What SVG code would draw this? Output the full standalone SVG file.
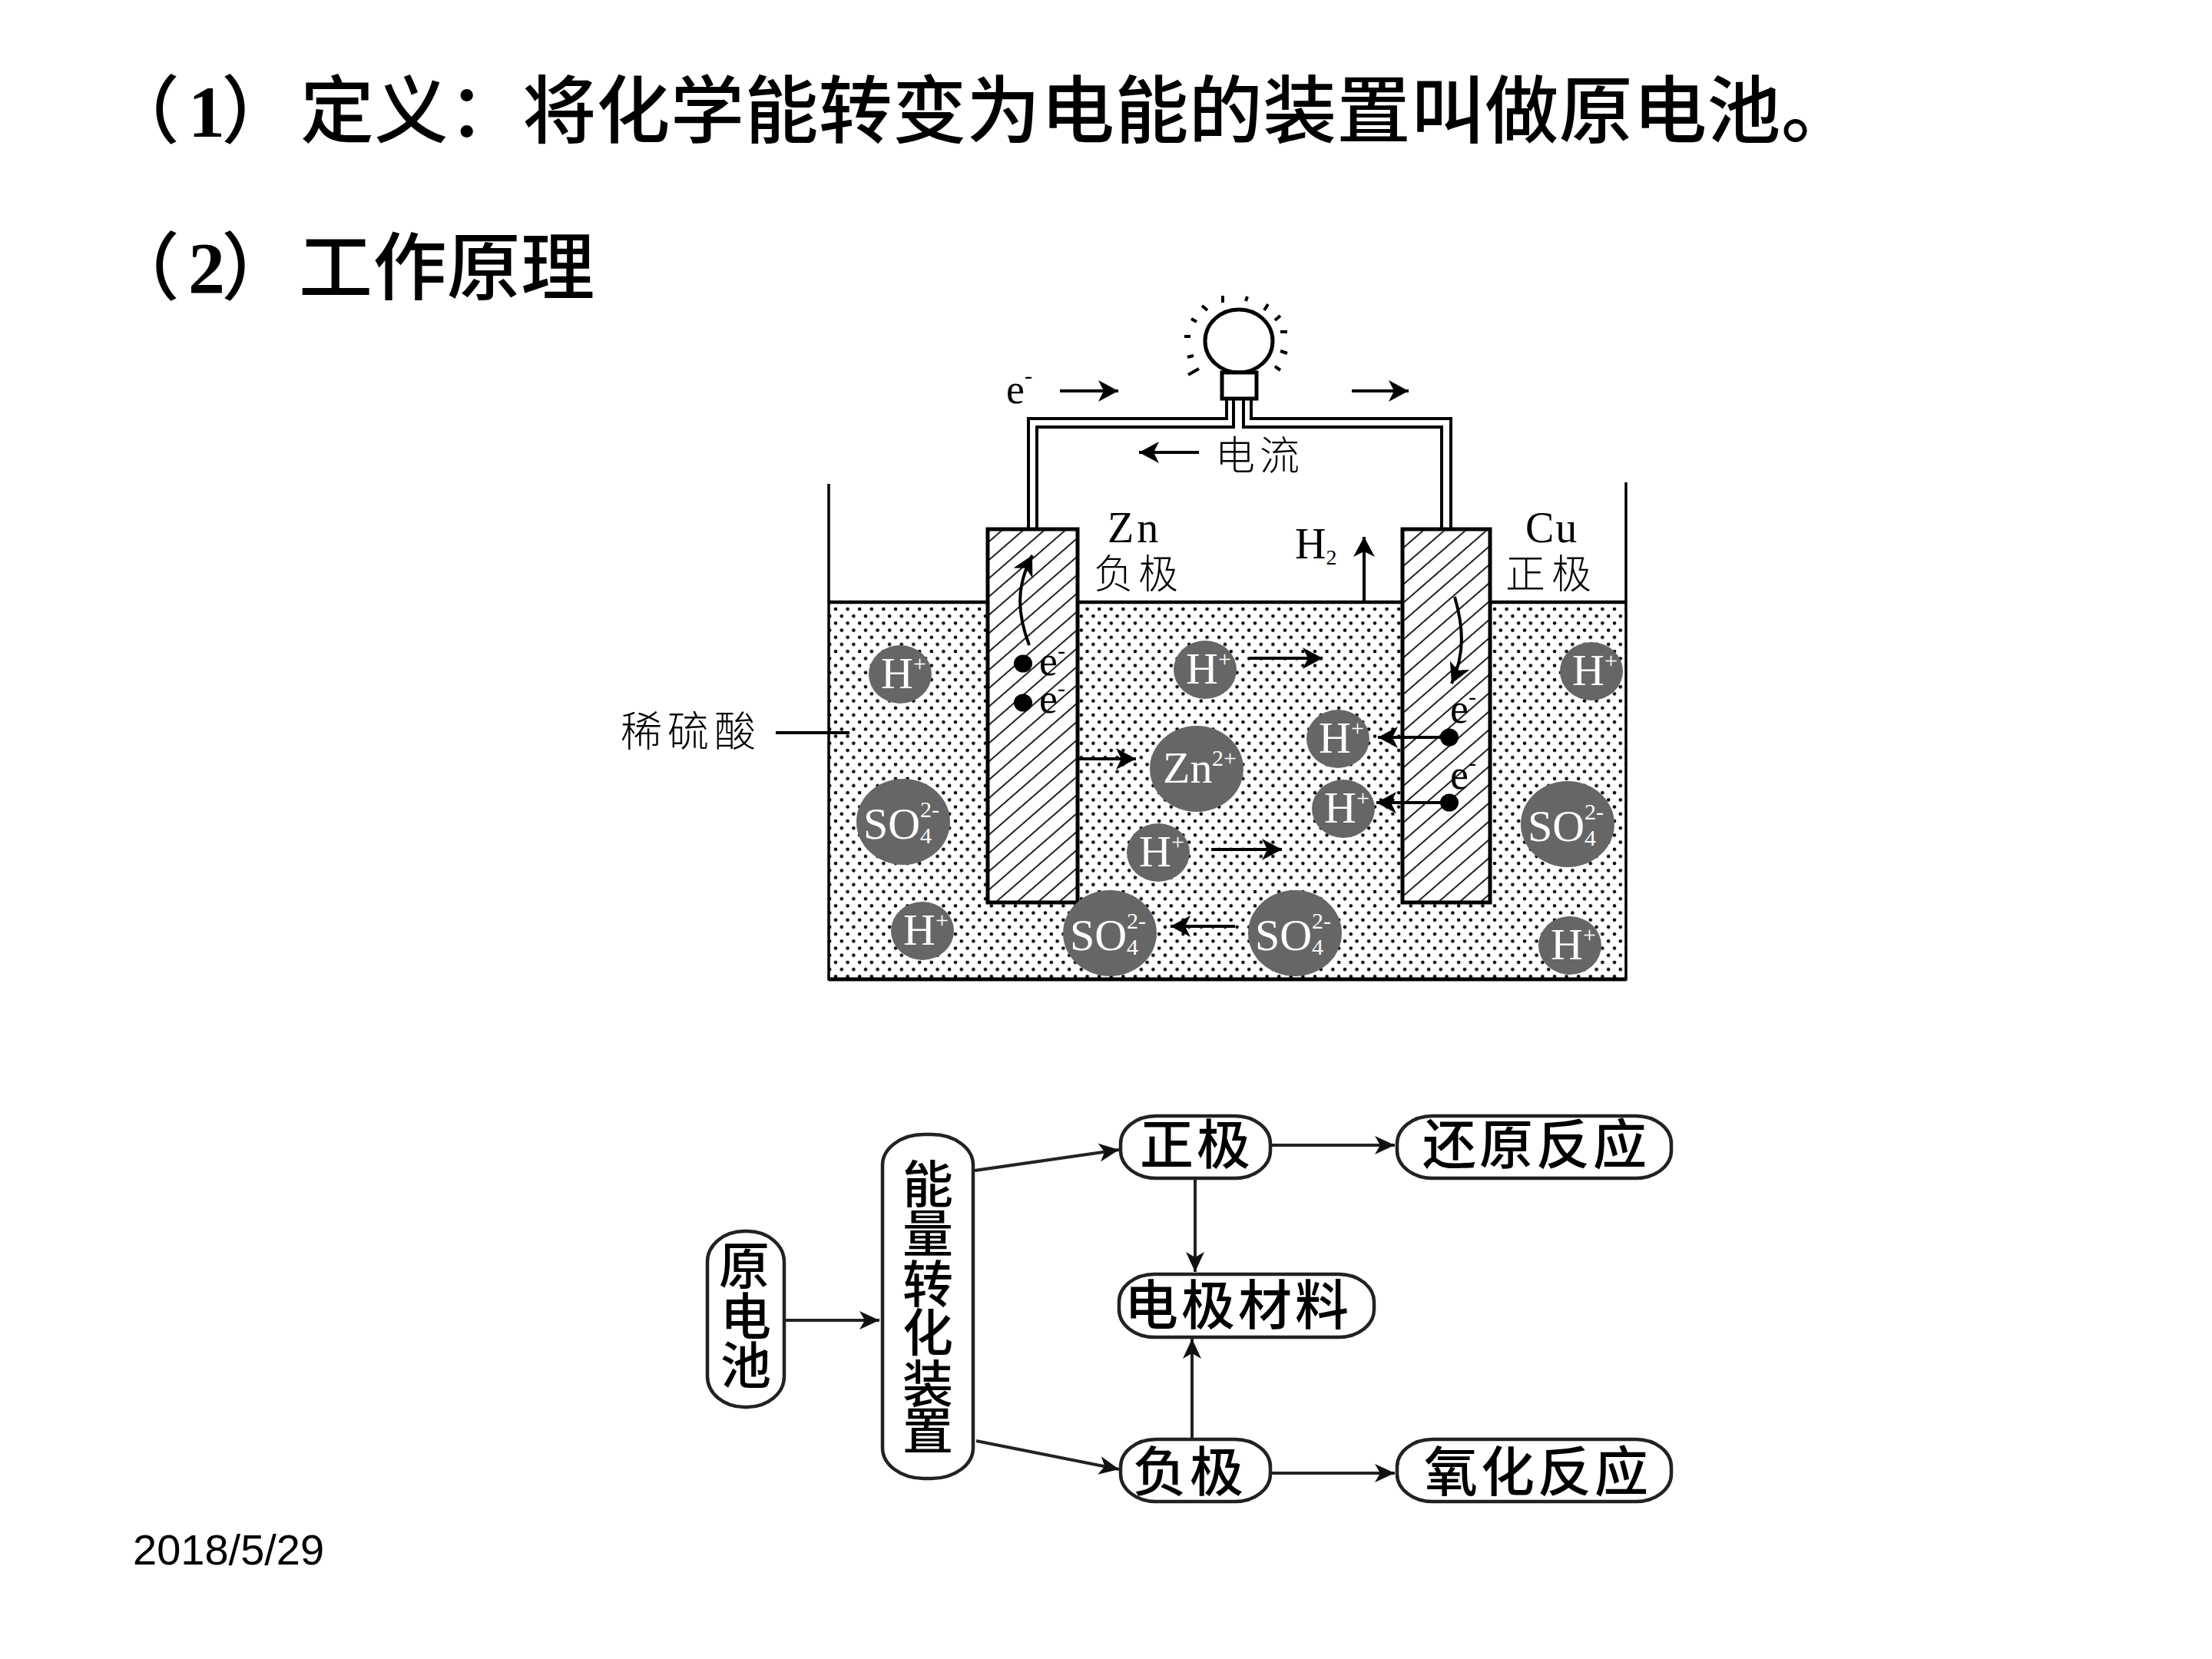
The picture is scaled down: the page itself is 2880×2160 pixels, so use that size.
<svg xmlns="http://www.w3.org/2000/svg" width="2880" height="2160" viewBox="0 0 2880 2160" lang="zh-CN">
<style>
.cjk{font-family:"Noto Sans CJK SC",sans-serif;fill:#000}
.title{font-size:96px;letter-spacing:.4px;font-weight:500}
.ser{font-family:"Liberation Serif","Noto Sans CJK SC",serif;fill:#000}
.lab{font-size:52px;font-weight:300}
.flow{font-size:70px;letter-spacing:4px;text-anchor:middle;font-weight:500}
.vflow{font-size:66px;text-anchor:middle;font-weight:500}
.ion{fill:#666}
.it{font-family:"Liberation Serif",serif;fill:#fff;font-size:58px}
.is{font-family:"Liberation Serif",serif;fill:#fff;font-size:30px}
.e{font-family:"Liberation Serif",serif;fill:#000;font-size:54px}
.es{font-family:"Liberation Serif",serif;fill:#000;font-size:30px}
.ln{fill:none;stroke:#000;stroke-width:3.5}
.wire{fill:none;stroke:#000;stroke-width:4}
.ray{fill:none;stroke:#000;stroke-width:4}
.box{fill:#fff;stroke:#222;stroke-width:4.5}
.arr{fill:none;stroke:#000;stroke-width:4;marker-end:url(#big)}
.flw{fill:none;stroke:#222;stroke-width:4;marker-end:url(#small)}
.elec{fill:url(#hatch);stroke:#000;stroke-width:5}
</style>
<defs>
<pattern id="dots" patternUnits="userSpaceOnUse" x="1085" y="790" width="15.6" height="18.4">
<ellipse cx="3" cy="3" rx="2.300" ry="2.300"/><ellipse cx="10.800" cy="12.200" rx="2.300" ry="2.300"/>
</pattern>
<pattern id="hatch" patternUnits="userSpaceOnUse" width="40" height="18" patternTransform="rotate(-41)">
<rect width="40" height="18" fill="#fff"/><line x1="0" y1="9" x2="40" y2="9" stroke="#222" stroke-width="2"/>
</pattern>
<marker id="big" markerUnits="userSpaceOnUse" markerWidth="30" markerHeight="30" refX="28" refY="15" orient="auto" overflow="visible"><path d="M28 15 L2 1 L9 15 L2 29 Z"/></marker>
<marker id="small" markerUnits="userSpaceOnUse" markerWidth="30" markerHeight="28" refX="28" refY="14" orient="auto" overflow="visible"><path d="M28 14 L2 2 L9 14 L2 26 Z" fill="#111"/></marker>
</defs>
<rect width="2880" height="2160" fill="#fff"/>

<g id="heading">
<text class="cjk title" y="178"><tspan x="138">（</tspan><tspan class="ser" x="245" font-weight="700">1</tspan><tspan x="288">）</tspan><tspan x="391">定义：将化学能转变为电能的装置叫做原电池。</tspan></text>
<text class="cjk title" y="382"><tspan x="138">（</tspan><tspan class="ser" x="245" font-weight="700">2</tspan><tspan x="288">）</tspan><tspan x="389">工作原理</tspan></text>
</g>

<g id="cell">
<rect x="1079" y="786" width="1038" height="488" fill="url(#dots)"/>
<path class="ln" d="M1079 630 V1275 H2117 V628" stroke-width="3.5"/>
<path d="M1079 1275 H2117" stroke="#000" stroke-width="5"/>
<path d="M1079 784 H2117" stroke="#000" stroke-width="4.500"/>
<rect id="zn-electrode" class="elec" x="1286" y="689" width="117" height="486"/>
<rect id="cu-electrode" class="elec" x="1826" y="689" width="114" height="486"/>
</g>

<g id="bulb">
<path class="wire" d="M1339 688 V545 H1597 V519 M1350 688 V556 H1606 V519 M1619 519 V556 H1877 V688 M1629 519 V545 H1889 V688"/>
<ellipse cx="1613" cy="444" rx="44" ry="41" fill="#fff" stroke="#000" stroke-width="5"/>
<rect x="1591" y="485" width="45" height="34" fill="#fff" stroke="#000" stroke-width="5"/>
<path class="ray" d="M1592 385V394M1624 386L1622 392M1651 396L1646 404M1667 411L1660 417M1667 432H1676M1667 457L1676 460M1660 477L1667 482M1542 438H1550M1546 465L1554 463M1547 488L1561 480M1551 415L1558 419M1565 398L1572 404"/>
</g>

<g id="labels">
<text class="e" x="1310" y="525">e<tspan class="es" dy="-26">-</tspan></text>
<text class="cjk lab" x="1582" y="612" letter-spacing="6">电流</text>
<text class="ser" x="1442" y="706" font-size="56" letter-spacing="4">Zn</text>
<text class="cjk lab" x="1424" y="766" letter-spacing="6">负极</text>
<text class="ser" x="1686" y="727" font-size="56">H<tspan font-size="28" dy="8">2</tspan></text>
<text class="ser" x="1986" y="706" font-size="56" letter-spacing="2">Cu</text>
<text class="cjk lab" x="1960" y="766" letter-spacing="8">正极</text>
<text class="cjk lab" x="808" y="972" style="font-size:54px" letter-spacing="7">稀硫酸</text>
<text class="e" x="1353" y="879">e<tspan class="es" dy="-22">-</tspan></text>
<text class="e" x="1353" y="928">e<tspan class="es" dy="-22">-</tspan></text>
<text class="e" x="1888" y="941">e<tspan class="es" dy="-24">-</tspan></text>
<text class="e" x="1888" y="1027">e<tspan class="es" dy="-24">-</tspan></text>
</g>

<g id="ions">
<g id="h1" transform="translate(1172 878)"><ellipse class="ion" rx="41" ry="38"/><text class="it" x="-25" y="18">H</text><text class="is" x="17" y="-4">+</text></g>
<g id="h2" transform="translate(1569 872)"><ellipse class="ion" rx="41" ry="38"/><text class="it" x="-25" y="18">H</text><text class="is" x="17" y="-4">+</text></g>
<g id="h3" transform="translate(2072 874)"><ellipse class="ion" rx="41" ry="38"/><text class="it" x="-25" y="18">H</text><text class="is" x="17" y="-4">+</text></g>
<g id="h4" transform="translate(1742 962)"><ellipse class="ion" rx="41" ry="38"/><text class="it" x="-25" y="18">H</text><text class="is" x="17" y="-4">+</text></g>
<g id="h5" transform="translate(1749 1053)"><ellipse class="ion" rx="41" ry="38"/><text class="it" x="-25" y="18">H</text><text class="is" x="17" y="-4">+</text></g>
<g id="h6" transform="translate(1508 1110)"><ellipse class="ion" rx="41" ry="38"/><text class="it" x="-25" y="18">H</text><text class="is" x="17" y="-4">+</text></g>
<g id="h7" transform="translate(1201 1212)"><ellipse class="ion" rx="41" ry="38"/><text class="it" x="-25" y="18">H</text><text class="is" x="17" y="-4">+</text></g>
<g id="h8" transform="translate(2044 1231)"><ellipse class="ion" rx="41" ry="38"/><text class="it" x="-25" y="18">H</text><text class="is" x="17" y="-4">+</text></g>
<g id="zn" transform="translate(1558 1001)"><ellipse class="ion" rx="61" ry="56"/><text class="it" x="-44" y="18">Zn</text><text class="is" x="20" y="-4">2+</text></g>
<g id="so1" transform="translate(1176 1070)"><ellipse class="ion" rx="61" ry="56"/><text class="it" x="-52" y="22">SO</text><text class="is" x="22" y="-6">2-</text><text class="is" x="22" y="28">4</text></g>
<g id="so2" transform="translate(2041 1073)"><ellipse class="ion" rx="61" ry="56"/><text class="it" x="-52" y="22">SO</text><text class="is" x="22" y="-6">2-</text><text class="is" x="22" y="28">4</text></g>
<g id="so3" transform="translate(1445 1215)"><ellipse class="ion" rx="61" ry="56"/><text class="it" x="-52" y="22">SO</text><text class="is" x="22" y="-6">2-</text><text class="is" x="22" y="28">4</text></g>
<g id="so4" transform="translate(1686 1215)"><ellipse class="ion" rx="61" ry="56"/><text class="it" x="-52" y="22">SO</text><text class="is" x="22" y="-6">2-</text><text class="is" x="22" y="28">4</text></g>
</g>

<g id="electrons">
<ellipse cx="1332" cy="864" rx="12" ry="11.500"/>
<ellipse cx="1332" cy="915" rx="12" ry="11.500"/>
<ellipse cx="1887" cy="960" rx="12" ry="11.500"/>
<ellipse cx="1887" cy="1045" rx="12" ry="11.500"/>
</g>

<g id="connectors">
<path class="arr" d="M1380 509H1456"/>
<path class="arr" d="M1760 509H1834"/>
<path class="arr" d="M1561 589H1483"/>
<path class="arr" d="M1776 784V699"/>
<path class="arr" d="M1627 857H1722"/>
<path class="arr" d="M1404 988H1479"/>
<path class="arr" d="M1577 1106H1669"/>
<path class="arr" d="M1608 1206H1524"/>
<path class="arr" d="M1887 960H1794"/>
<path class="arr" d="M1887 1045H1792"/>
<path class="arr" d="M1340 840C1325 800 1322 765 1344 723"/>
<path class="arr" d="M1894 777C1905 815 1908 850 1890 890"/>
<path d="M1010 954H1106" stroke="#000" stroke-width="4"/>
<path class="flw" d="M1023 1719H1145"/>
<path class="flw" d="M1269 1524L1457 1497"/>
<path class="flw" d="M1271 1876L1457 1913"/>
<path class="flw" d="M1656 1491H1816"/>
<path class="flw" d="M1656 1918H1816"/>
<path class="flw" d="M1556 1534V1656" stroke-width="3"/>
<path class="flw" d="M1552 1874V1743" stroke-width="3"/>
</g>

<g id="n-yuandianchi"><rect class="box" x="921" y="1603" width="100" height="229" rx="48" ry="40"/><text class="cjk vflow" x="969 971 971" y="1672 1738 1802">原电池</text></g>
<g id="n-nengliang"><rect class="box" x="1149" y="1477" width="118" height="448" rx="54" ry="40"/><text class="cjk vflow" x="1208 1208 1208 1208 1208 1208" y="1566 1630 1696 1759 1826 1887">能量转化装置</text></g>
<g id="n-zheng"><rect class="box" x="1459" y="1453" width="195" height="81" rx="46" ry="36"/><text class="cjk flow" x="1558" y="1516">正极</text></g>
<g id="n-huanyuan"><rect class="box" x="1819" y="1453" width="357" height="81" rx="46" ry="36"/><text class="cjk flow" x="2000" y="1516">还原反应</text></g>
<g id="n-cailiao"><rect class="box" x="1457" y="1659" width="332" height="82" rx="46" ry="36"/><text class="cjk flow" x="1612" y="1725">电极材料</text></g>
<g id="n-fu"><rect class="box" x="1459" y="1874" width="195" height="81" rx="46" ry="36"/><text class="cjk flow" x="1549" y="1942">负极</text></g>
<g id="n-yanghua"><rect class="box" x="1819" y="1874" width="357" height="81" rx="46" ry="36"/><text class="cjk flow" x="2002" y="1942">氧化反应</text></g>

<text id="date" x="173" y="2037" font-family="Liberation Sans,Arial,sans-serif" font-size="56" fill="#000">2018/5/29</text>
</svg>
